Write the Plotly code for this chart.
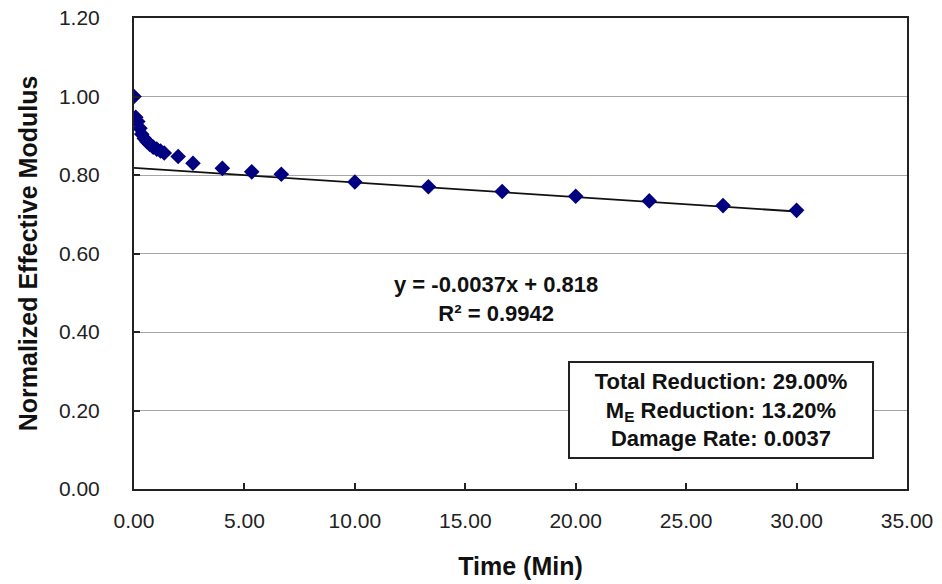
import plotly.graph_objects as go

# Measured modulus ratio over time
time_min = [0.0, 0.08, 0.17, 0.27, 0.35, 0.47, 0.59, 0.72, 0.87, 1.03, 1.2, 1.37,
            2.0, 2.67, 4.0, 5.33, 6.67, 10.0, 13.33, 16.67, 20.0, 23.33, 26.67, 30.0]
modulus = [1.000, 0.947, 0.936, 0.919, 0.904, 0.893, 0.885, 0.878, 0.871, 0.866, 0.861, 0.856,
           0.847, 0.830, 0.817, 0.808, 0.802, 0.782, 0.770, 0.758, 0.746, 0.734, 0.722, 0.710]

# Linear trend of the steady-state portion
slope = -0.0037
intercept = 0.818
r_squared = 0.9942
trend_x = [0.0, 30.0]
trend_y = [slope * x + intercept for x in trend_x]

x_ticks = [0, 5, 10, 15, 20, 25, 30, 35]
y_ticks = [0.0, 0.2, 0.4, 0.6, 0.8, 1.0, 1.2]

font = "Liberation Sans, Arial, sans-serif"

fig = go.Figure()
fig.add_trace(go.Scatter(
    x=trend_x, y=trend_y, mode="lines",
    line=dict(color="#111111", width=1.8), hoverinfo="skip", showlegend=False))
fig.add_trace(go.Scatter(
    x=time_min, y=modulus, mode="markers",
    marker=dict(symbol="diamond", size=12, color="#000080"), showlegend=False))

fig.add_annotation(
    x=16.41, y=0.485, xref="x", yref="y",
    text=f"<b>y = {slope}x + {intercept}<br>R² = {r_squared}</b>",
    showarrow=False, font=dict(family=font, size=22, color="#111111"), align="center")

fig.add_annotation(
    x=26.57, y=0.201, xref="x", yref="y",
    text="<b>Total Reduction: 29.00%<br>M<sub>E</sub> Reduction: 13.20%<br>Damage Rate: 0.0037</b>",
    showarrow=False, font=dict(family=font, size=22, color="#111111"), align="center",
    bordercolor="#222222", borderwidth=2, borderpad=6, bgcolor="white", width=290)

fig.update_layout(
    width=942, height=584,
    margin=dict(l=134, r=35, t=18, b=95),
    paper_bgcolor="white", plot_bgcolor="white",
    font=dict(family=font, size=21, color="#222222"),
    xaxis=dict(
        range=[0, 35], tickvals=x_ticks, ticktext=[f"{v:.2f}" for v in x_ticks],
        showgrid=False, zeroline=False, showline=True, linecolor="#222222", linewidth=2,
        mirror=True, ticks="inside", ticklen=6, tickwidth=1.5, tickcolor="#222222",
        ticklabelstandoff=12, automargin=False,
        title=dict(text="<b>Time (Min)</b>", font=dict(size=25, family=font, color="#111111"),
                   standoff=26)),
    yaxis=dict(
        range=[0, 1.2], tickvals=y_ticks, ticktext=[f"{v:.2f}" for v in y_ticks],
        showgrid=True, gridcolor="#a6a6a6", gridwidth=1.2, zeroline=False,
        showline=True, linecolor="#222222", linewidth=2, mirror=True,
        ticks="inside", ticklen=6, tickwidth=1.5, tickcolor="#222222",
        ticklabelstandoff=28, automargin=False,
        title=dict(text="<b>Normalized Effective Modulus</b>",
                   font=dict(size=25, family=font, color="#111111"), standoff=14)),
)

fig.write_html("out.html")
